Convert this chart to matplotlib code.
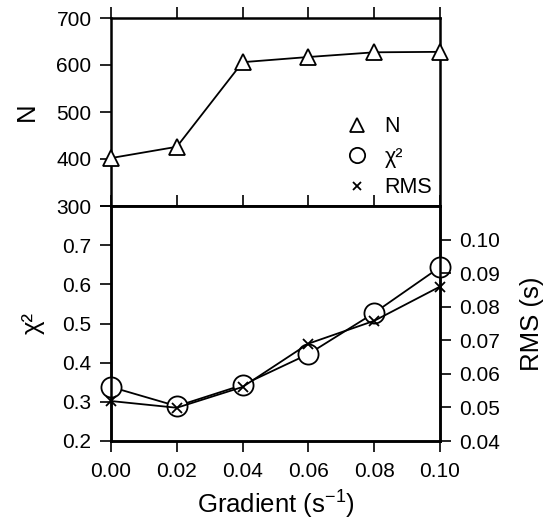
import matplotlib
matplotlib.use("Agg")
import matplotlib.pyplot as plt
from matplotlib.lines import Line2D

plt.rcParams['font.family'] = ['Liberation Sans', 'DejaVu Sans']
plt.rcParams['mathtext.default'] = 'regular'

gradient = [0.00, 0.02, 0.04, 0.06, 0.08, 0.10]
n_values = [402, 426, 606, 617, 627, 628]
chi2_values = [0.338, 0.289, 0.343, 0.422, 0.527, 0.644]
rms_values = [0.0519, 0.0499, 0.0561, 0.0690, 0.0758, 0.0860]

x_ticks = [0.00, 0.02, 0.04, 0.06, 0.08, 0.10]
x_ticklabels = ['0.00', '0.02', '0.04', '0.06', '0.08', '0.10']
n_ticks = [300, 400, 500, 600, 700]
chi_ticks = [0.2, 0.3, 0.4, 0.5, 0.6, 0.7, 0.8]
chi_ticklabels = ['0.2', '0.3', '0.4', '0.5', '0.6', '0.7', '']
rms_ticks = [0.04, 0.05, 0.06, 0.07, 0.08, 0.09, 0.10]
rms_ticklabels = ['0.04', '0.05', '0.06', '0.07', '0.08', '0.09', '0.10']

W, H = 553, 524
fig = plt.figure(figsize=(W / 100, H / 100), dpi=100)

left = 111 / W
width = (440 - 111) / W
ax1 = fig.add_axes([left, 1 - 206 / H, width, (206 - 18) / H])
ax2 = fig.add_axes([left, 1 - 441 / H, width, (441 - 206) / H])
ax3 = ax2.twinx()

lw_spine = 1.8
tick_fs = 15
label_fs = 18.5

for ax in (ax1, ax2, ax3):
    for s in ax.spines.values():
        s.set_linewidth(lw_spine)

# Top panel
ax1.plot(gradient, n_values, color='black', lw=1.3, marker='^', ms=11.5,
         mfc='white', mec='black', mew=1.3, clip_on=False, zorder=3)
ax1.set_xlim(0, 0.10)
ax1.set_ylim(300, 700)
ax1.set_yticks(n_ticks)
ax1.set_xticks(x_ticks)
ax1.tick_params(axis='y', direction='out', length=8, width=1.2, labelsize=tick_fs, pad=6)
ax1.tick_params(axis='x', which='both', top=True, bottom=False, labelbottom=False,
                direction='out', length=8, width=1.2)
ax1.set_ylabel('N', fontsize=label_fs, labelpad=13)

legend_handles = [
    Line2D([], [], ls='none', marker='^', ms=9.5, mfc='white', mec='black', mew=1.3),
    Line2D([], [], ls='none', marker='o', ms=11, mfc='white', mec='black', mew=1.3),
    Line2D([], [], ls='none', marker='x', ms=6, mec='black', mew=1.3),
]
ax1.legend(legend_handles, ['N', 'χ²', 'RMS'], loc='lower right',
           bbox_to_anchor=(1.0, 0.0), frameon=False, fontsize=15.5,
           handletextpad=0.7, handlelength=1.2, labelspacing=0.45,
           borderaxespad=0.15, borderpad=0.2)

# Bottom panel
ax2.plot(gradient, chi2_values, color='black', lw=1.3, marker='o', ms=14.5,
         mfc='white', mec='black', mew=1.3, clip_on=False, zorder=3)
ax2.set_xlim(0, 0.10)
ax2.set_ylim(0.2, 0.8)
ax2.set_yticks(chi_ticks)
ax2.set_yticklabels(chi_ticklabels)
ax2.set_xticks(x_ticks)
ax2.set_xticklabels(x_ticklabels)
ax2.tick_params(axis='y', direction='out', length=8, width=1.2, labelsize=tick_fs, pad=6)
ax2.tick_params(axis='x', direction='out', length=8, width=1.2, labelsize=tick_fs, pad=7,
                top=True)
ax2.set_ylabel('χ²', fontsize=label_fs, labelpad=13)
ax2.set_xlabel('Gradient (s$^{-1}$)', fontsize=label_fs, labelpad=6)

ax3.plot(gradient, rms_values, color='black', lw=1.3, marker='x', ms=7,
         mec='black', mew=1.3, clip_on=False, zorder=4)
ax3.set_ylim(0.04, 0.11)
ax3.set_yticks(rms_ticks)
ax3.set_yticklabels(rms_ticklabels)
ax3.tick_params(axis='y', direction='out', length=8, width=1.2, labelsize=tick_fs, pad=6)
ax3.set_ylabel('RMS (s)', fontsize=label_fs, labelpad=14)

fig.savefig('out.png', dpi=100)
